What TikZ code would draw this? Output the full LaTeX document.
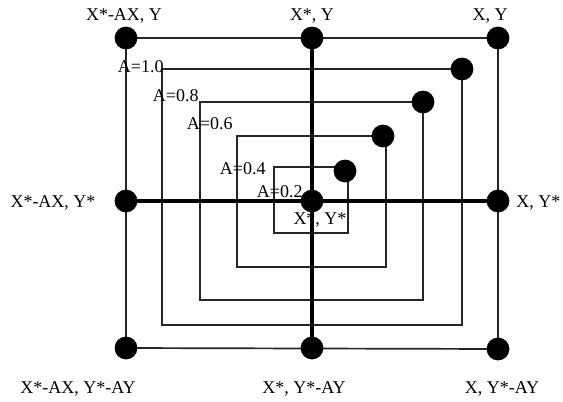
\documentclass[tikz,border=0pt]{standalone}
\usepackage{fontspec}
\setmainfont{Liberation Serif}
\usetikzlibrary{backgrounds}
\begin{document}
\begin{tikzpicture}[x=0.5pt,y=-0.5pt,
  dot/.style={circle,fill=black,inner sep=0pt,minimum size=11.4pt},
  thin/.style={line width=0.85pt,draw=black!85},
  thick/.style={line width=1.8pt,draw=black},
  lbl/.style={inner sep=0pt,font=\fontsize{9}{10}\selectfont,anchor=base},
  albl/.style={lbl,anchor=base east}]
\useasboundingbox (0,0) rectangle (563,402);
% outer grid dots
\node[dot] (tl) at (126,38) {};
\node[dot] (tc) at (312,38) {};
\node[dot] (tr) at (498,38) {};
\node[dot] (ml) at (126,201) {};
\node[dot] (mc) at (312,201) {};
\node[dot] (mr) at (498,201) {};
\node[dot] (bl) at (126,348) {};
\node[dot] (bc) at (312,348) {};
\node[dot] (br) at (498,349) {};
% A-level corner dots
\node[dot] (d10) at (462,69) {};
\node[dot] (d08) at (423,102) {};
\node[dot] (d06) at (383,136) {};
\node[dot] (d04) at (345,171) {};
% rectangle corners
\coordinate (a10) at (162,69);  \coordinate (b10) at (162,325); \coordinate (c10) at (462,325);
\coordinate (a08) at (200,102); \coordinate (b08) at (200,300); \coordinate (c08) at (423,300);
\coordinate (a06) at (237,136); \coordinate (b06) at (237,267); \coordinate (c06) at (386,267);
\coordinate (e06) at (386,136);
\coordinate (a04) at (274,167); \coordinate (b04) at (274,233); \coordinate (c04) at (348,233);
\coordinate (e04) at (348,167);
\begin{scope}[on background layer]
  \draw[thin] (tl.center) -- (tr.center) -- (br.center) -- (bl.center) -- cycle;
  \draw[thin] (d10.center) -- (a10) -- (b10) -- (c10) -- (d10.center);
  \draw[thin] (d08.center) -- (a08) -- (b08) -- (c08) -- (d08.center);
  \draw[thin] (d06.center) -- (e06) -- (c06) -- (b06) -- (a06) -- (e06);
  \draw[thin] (d04.center) -- (e04) -- (c04) -- (b04) -- (a04) -- (e04);
  \draw[thick] (tc.center) -- (mc.center) -- (bc.center);
  \draw[thick] (ml.center) -- (mc.center) -- (mr.center);
\end{scope}
% labels
\node[lbl] (t1) at (124,20) {X*-AX, Y};
\node[lbl] (t2) at (312,20) {X*, Y};
\node[lbl] (t3) at (490,20) {X, Y};
\node[lbl] (m1) at (53,207) {X*-AX, Y*};
\node[lbl,anchor=base west] (m3) at (516,207) {X, Y*};
\node[lbl] (m2) at (320,224) {X*, Y*};
\node[lbl] (b1) at (78,393) {X*-AX, Y*-AY};
\node[lbl] (b2) at (304,393) {X*, Y*-AY};
\node[lbl] (b3) at (502,393) {X, Y*-AY};
\node[albl] (l10) at (164,72) {A=1.0};
\node[albl] (l08) at (199,101) {A=0.8};
\node[albl] (l06) at (233,129) {A=0.6};
\node[albl] (l04) at (266,174) {A=0.4};
\node[albl] (l02) at (303,197) {A=0.2};
\end{tikzpicture}
\end{document}
